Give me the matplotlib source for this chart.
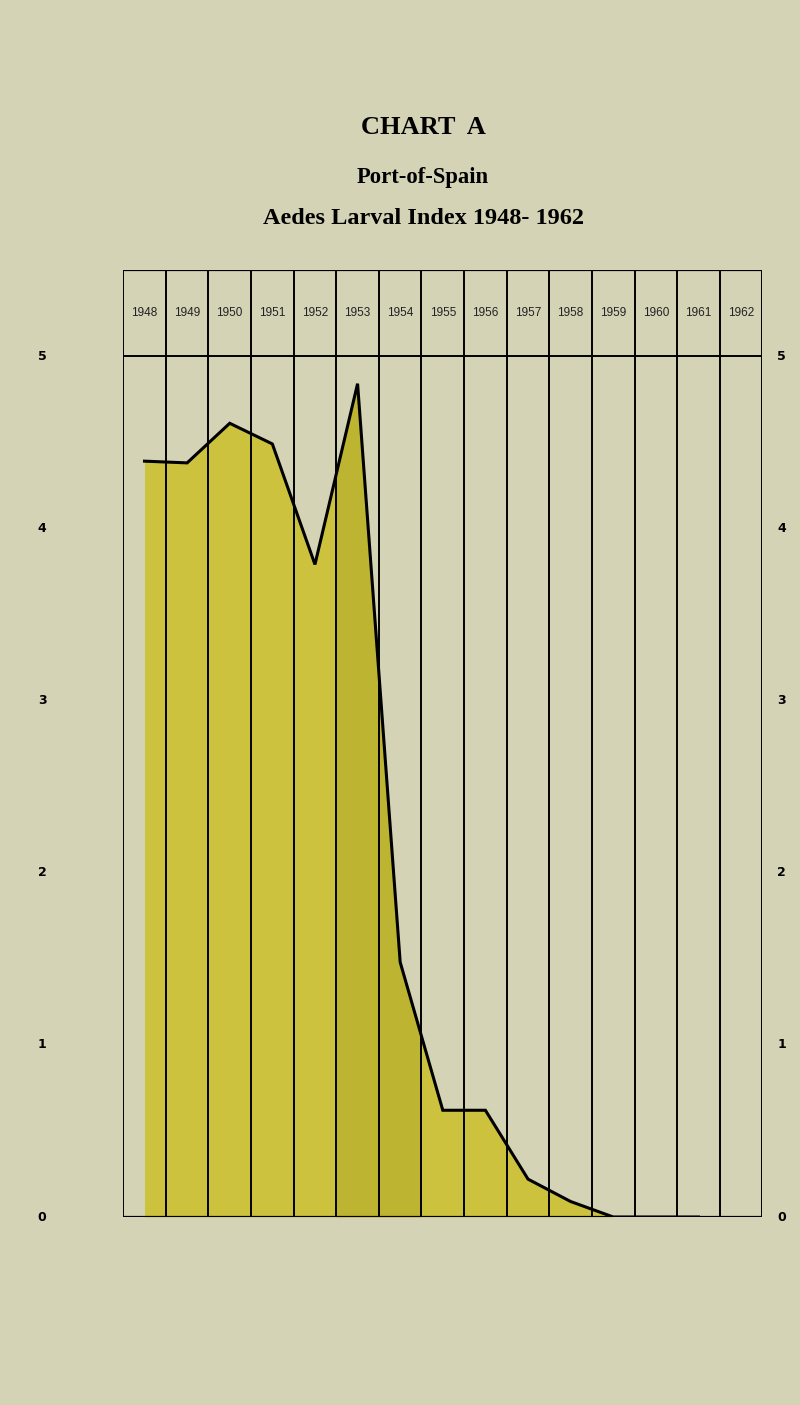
import matplotlib.pyplot as plt
import numpy as np

years = ["1948", "1949", "1950", "1951", "1952", "1953", "1954", "1955",
         "1956", "1957", "1958", "1959", "1960", "1961", "1962"]
# larval index (1962 has no point drawn)
index = [4.39, 4.38, 4.61, 4.49, 3.79, 4.84, 1.48, 0.62, 0.62, 0.22, 0.09, 0.0, 0.0, 0.0]
yticks = [0, 1, 2, 3, 4, 5]

paper = "#d5d3b6"
fill_col = "#ccc23e"
dark_fill = "#bdb431"

fig = plt.figure(figsize=(8, 14.05), dpi=100)
fig.patch.set_facecolor(paper)
ax = fig.add_axes([0.154, 0.1338, 0.799, 0.674])
ax.set_facecolor(paper)

n = len(years)
x = np.arange(len(index)) + 0.5

# shaded area under the curve, darker strip in the 1953/54 columns
ax.fill_between(x, 0, index, color=fill_col, lw=0, zorder=1)
xs = np.linspace(5, 7, 50)
ax.fill_between(xs, 0, np.interp(xs, x, index), color=dark_fill, lw=0, zorder=1)
ax.plot(x, index, color="black", lw=2.2, solid_joinstyle="miter", zorder=3)

# grid of columns
for i in range(n + 1):
    ax.plot([i, i], [0, 5.5], color="black", lw=1.4, zorder=2)
ax.plot([0, n], [5, 5], color="black", lw=1.4, zorder=2)
ax.plot([0, n], [5.5, 5.5], color="black", lw=1.6, zorder=2)
ax.plot([0, n], [0, 0], color="black", lw=1.6, zorder=2)

for i, yr in enumerate(years):
    ax.text(i + 0.5, 5.25, yr, ha="center", va="center", fontsize=8.5,
            family="Liberation Sans", color="#222222")

for v in yticks:
    ax.text(-1.9, v, str(v), ha="center", va="center", fontsize=9,
            fontweight="bold", family="DejaVu Sans")
    ax.text(n + 0.45, v, str(v), ha="center", va="center", fontsize=9,
            fontweight="bold", family="DejaVu Sans")

ax.set_xlim(0, n)
ax.set_ylim(0, 5.5)
ax.axis("off")

fig.text(0.529, 1 - 127 / 1405, "CHART  A", ha="center", va="center",
         fontsize=19, fontweight="bold", family="Liberation Serif")
fig.text(0.529, 1 - 177 / 1405, "Port-of-Spain", ha="center", va="center",
         fontsize=16.3, fontweight="bold", family="Liberation Serif")
fig.text(0.529, 1 - 218 / 1405, "Aedes Larval Index 1948- 1962", ha="center",
         va="center", fontsize=17.5, fontweight="bold", family="Liberation Serif")

fig.savefig("out.png", dpi=100, facecolor=paper)
